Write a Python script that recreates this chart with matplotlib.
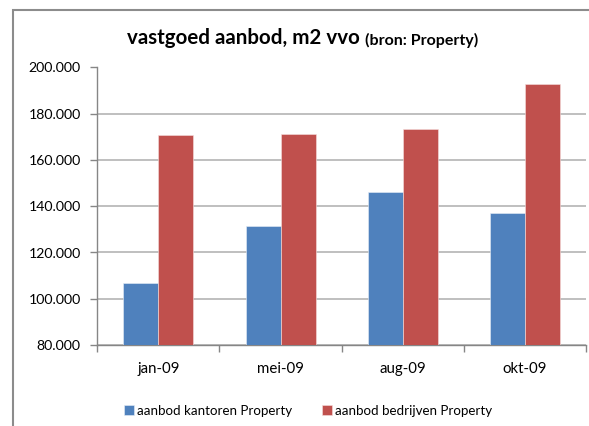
import matplotlib
matplotlib.use("Agg")
import matplotlib.pyplot as plt
from matplotlib.patches import Rectangle
from matplotlib.ticker import FuncFormatter, MultipleLocator
import numpy as np

# data
months = ["jan-09", "mei-09", "aug-09", "okt-09"]
kantoren = [107000, 131600, 146200, 137200]
bedrijven = [170700, 171400, 173300, 193000]
series_names = ["aanbod kantoren Property", "aanbod bedrijven Property"]

plt.rcParams['font.family'] = ['Lato', 'DejaVu Sans']

W, H = 589, 426
fig = plt.figure(figsize=(W / 100, H / 100), dpi=100)
ax = fig.add_axes([97.3 / W, 1 - 345 / H, (586 - 97.3) / W, (345 - 67.5) / H])

x = np.arange(len(months))
bw = 0.286
b1 = ax.bar(x - bw / 2, kantoren, bw, color="#4F81BD", edgecolor="#e8eef7", linewidth=0.4,
            label=series_names[0], zorder=3)
b2 = ax.bar(x + bw / 2, bedrijven, bw, color="#C0504D", edgecolor="#f5e0df", linewidth=0.4,
            label=series_names[1], zorder=3)

ax.set_xlim(-0.5, len(months) - 0.5)
ax.set_ylim(80000, 200000)
ax.yaxis.set_major_locator(MultipleLocator(20000))
ax.yaxis.set_major_formatter(FuncFormatter(lambda v, p: f"{v:,.0f}".replace(",", ".")))
ax.grid(axis="y", color="#b4b4b4", linewidth=1.2, zorder=0)

ax.set_xticks(x)
ax.set_xticklabels(months)
ax.set_xticks(np.arange(-0.5, len(months)), minor=True)
ax.tick_params(axis="x", which="major", length=0, pad=12, labelsize=10.8, colors="#000000")
ax.tick_params(axis="x", which="minor", length=5, color="#868686", width=1)
ax.tick_params(axis="y", length=5, color="#868686", width=1, pad=7, labelsize=10.2)

for s in ["top", "right"]:
    ax.spines[s].set_visible(False)
for s in ["left", "bottom"]:
    ax.spines[s].set_color("#868686")
    ax.spines[s].set_linewidth(1)

# outer chart border
fig.patches.append(Rectangle((13 / W, -0.05), 1.1, 1 - 10 / H + 0.05, transform=fig.transFigure,
                             fill=False, edgecolor="#8c8c8c", linewidth=1.5))

# title in two parts
t1 = fig.text(127 / W, 1 - 44.5 / H, "vastgoed aanbod, m2 vvo", fontsize=14.8,
              fontweight="bold", ha="left", va="baseline")
fig.canvas.draw()
bb = t1.get_window_extent()
fig.text(bb.x1 / W + 5 / W, 1 - 44.5 / H, "(bron: Property)", fontsize=11.5,
         fontweight="bold", ha="left", va="baseline")

fig.legend(handles=[b1, b2], loc="center", bbox_to_anchor=(308 / W, 15 / H), ncol=2,
           frameon=False, fontsize=9.6, handlelength=0.75, handleheight=0.75,
           handletextpad=0.2, columnspacing=2.3)

fig.savefig("out.png", dpi=100)
